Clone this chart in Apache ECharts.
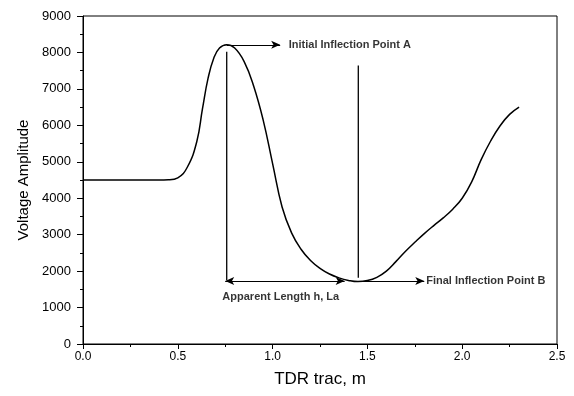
<!DOCTYPE html>
<html><head><meta charset="utf-8">
<script src="https://cdn.jsdelivr.net/npm/echarts@6/dist/echarts.min.js"></script>
<style>html,body{margin:0;padding:0;background:#fff}#c{width:574px;height:396px}</style>
</head><body><div id="c"></div>
<script>
// Curve data
const xVals = [0, 0.1, 0.2, 0.3, 0.4, 0.45, 0.5, 0.55, 0.6, 0.63, 0.66, 0.69, 0.72, 0.758, 0.8, 0.85, 0.9, 0.95, 1.0, 1.05, 1.1, 1.15, 1.2, 1.25, 1.3, 1.35, 1.4, 1.45, 1.5, 1.55, 1.6, 1.65, 1.7, 1.75, 1.8, 1.85, 1.9, 1.95, 2.0, 2.05, 2.1, 2.15, 2.2, 2.25, 2.3];
const yVals = [4500, 4500, 4500, 4500, 4500, 4505, 4560, 4850, 5550, 6450, 7300, 7850, 8120, 8210, 8120, 7750, 7080, 6150, 4950, 3760, 3050, 2600, 2290, 2075, 1920, 1815, 1745, 1712, 1740, 1830, 2000, 2260, 2540, 2790, 3030, 3250, 3460, 3700, 4000, 4450, 5060, 5570, 5990, 6300, 6500];

// Axis ticks
const xTicks = [0, 0.5, 1.0, 1.5, 2.0, 2.5];
const yTicks = [0, 1000, 2000, 3000, 4000, 5000, 6000, 7000, 8000, 9000];

// Annotation geometry (data coordinates)
const vLine1 = [[0.758, 8020], [0.758, 1750]];
const vLine2 = [[1.452, 7640], [1.452, 1820]];
const arrowA = [[0.758, 8210], [1.04, 8210]];
const arrowLa = [[0.75, 1730], [1.38, 1730]];
const arrowB = [[1.47, 1730], [1.80, 1730]];
const labelTexts = ['Initial Inflection Point A', 'Final Inflection Point B', 'Apparent Length h, La'];
const labelPos = [[1.085, 8210], [1.81, 1730], [0.735, 1300]];

const curve = xVals.map((x, i) => [x, yVals[i]]);
const FONT = 'Liberation Sans, Arial, sans-serif';

const chart = echarts.init(document.getElementById('c'), null, {renderer: 'canvas'});
function seg(pts, name) {
  return {name, type: 'line', data: pts, symbol: 'none', lineStyle: {color: '#000', width: 1.3}, silent: true, animation: false, z: 3};
}
function arrow(pts, both) {
  return {
    type: 'line', data: [], silent: true, animation: false,
    markLine: {
      silent: true, animation: false,
      symbol: [both ? 'arrow' : 'none', 'arrow'], symbolSize: [6, 9],
      lineStyle: {color: '#000', width: 1, type: 'solid'},
      label: {show: false},
      data: [[{coord: pts[0]}, {coord: pts[1]}]]
    }
  };
}
chart.setOption({
  animation: false,
  grid: {left: 83, right: 17, top: 16, bottom: 52, show: true, borderColor: '#000', borderWidth: 1},
  xAxis: {
    type: 'value', min: 0, max: 2.5, interval: 0.5,
    name: 'TDR trac, m', nameLocation: 'middle', nameGap: 27,
    nameTextStyle: {fontFamily: FONT, fontSize: 17, color: '#000'},
    axisLine: {lineStyle: {color: '#000', width: 1}},
    axisTick: {length: 5, lineStyle: {color: '#000'}},
    minorTick: {show: true, splitNumber: 2, length: 3, lineStyle: {color: '#000'}},
    splitLine: {show: false},
    axisLabel: {fontFamily: FONT, fontSize: 12, color: '#000', margin: 7,
      formatter: v => xTicks.some(t => Math.abs(t - v) < 1e-9) ? v.toFixed(1) : ''}
  },
  yAxis: {
    type: 'value', min: 0, max: 9000, interval: 1000,
    name: 'Voltage Amplitude', nameLocation: 'middle', nameGap: 51,
    nameTextStyle: {fontFamily: FONT, fontSize: 15, color: '#000'},
    axisLine: {show: true, lineStyle: {color: '#000', width: 1}},
    axisTick: {show: true, length: 6, lineStyle: {color: '#000'}},
    minorTick: {show: true, splitNumber: 2, length: 3, lineStyle: {color: '#000'}},
    splitLine: {show: false},
    axisLabel: {fontFamily: FONT, fontSize: 13, color: '#000', margin: 12,
      formatter: v => yTicks.includes(v) ? String(v) : ''}
  },
  series: [
    {name: 'curve', type: 'line', data: curve, smooth: 0.45, symbol: 'none',
     lineStyle: {color: '#000', width: 1.5}, z: 4},
    seg(vLine1, 'v1'),
    seg(vLine2, 'v2'),
    arrow(arrowA, false),
    arrow(arrowLa, true),
    arrow(arrowB, false),
    {type: 'scatter', symbolSize: 0, silent: true, animation: false,
     data: labelPos.map((p, i) => ({value: p, label: {show: true, formatter: labelTexts[i]}})),
     label: {position: 'right', distance: 0, fontFamily: FONT, fontSize: 11, fontWeight: 'bold', color: '#000'}}
  ]
});
</script></body></html>
